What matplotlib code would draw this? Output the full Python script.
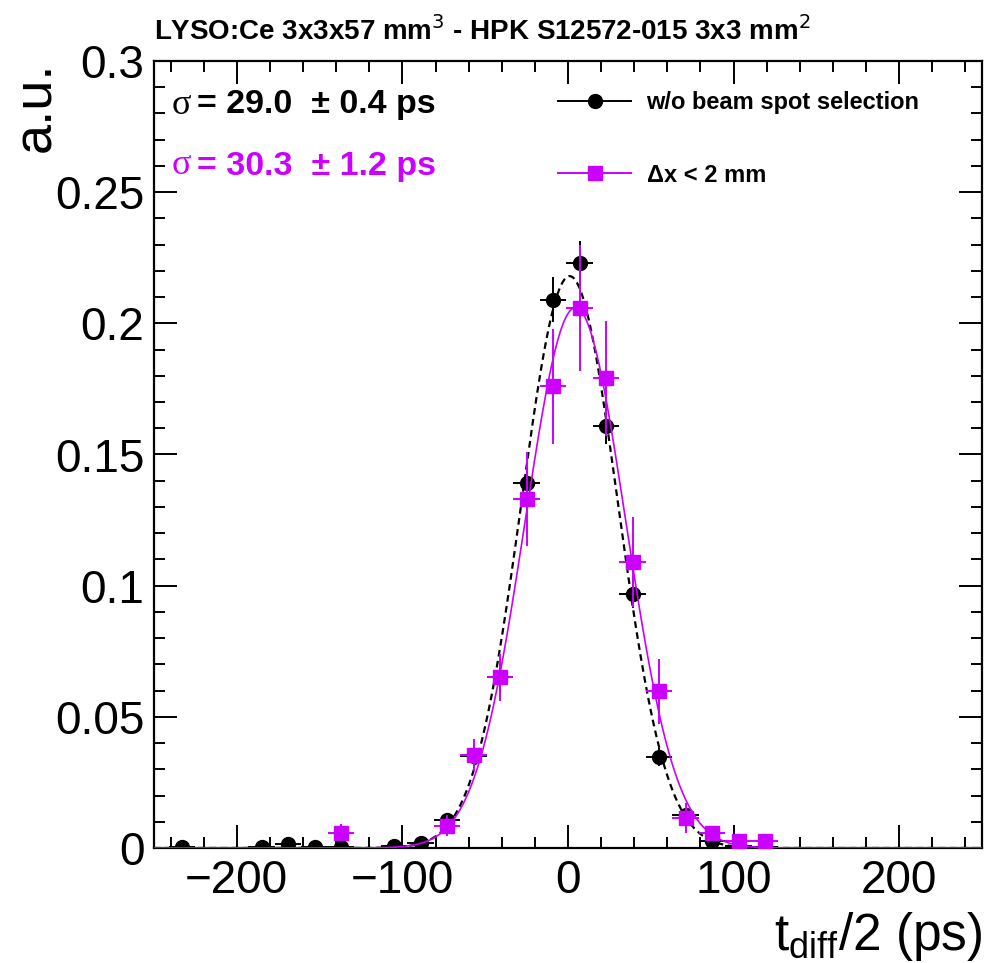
import numpy as np
import matplotlib
matplotlib.use("Agg")
import matplotlib.pyplot as plt
from matplotlib.lines import Line2D
from matplotlib.ticker import MultipleLocator, FuncFormatter

plt.rcParams['font.family'] = ['Liberation Sans', 'DejaVu Sans']

# ---------------- data ----------------
bin_half_width = 8.0

x_all = [-233, -185, -169, -153, -137, -105, -89, -73, -57, -41, -25, -9,
         7, 23, 39, 55, 71, 87, 103, 119]
y_all = [0.0004, 0.0005, 0.0015, 0.0004, 0.0005, 0.0006, 0.0019, 0.0105,
         0.035, 0.065, 0.139, 0.209, 0.223, 0.161, 0.097, 0.0346, 0.0125,
         0.0025, 0.0008, 0.0005]
yerr_all = [0.0004, 0.0005, 0.0009, 0.0004, 0.0005, 0.0005, 0.0009, 0.0022,
            0.004, 0.0055, 0.0075, 0.0085, 0.0085, 0.007, 0.0055, 0.0035,
            0.002, 0.001, 0.0006, 0.0005]

x_sel = [-137, -73, -57, -41, -25, -9, 7, 23, 39, 55, 71, 87, 103, 119]
y_sel = [0.0058, 0.0085, 0.0355, 0.065, 0.133, 0.176, 0.206, 0.179, 0.109,
         0.0597, 0.0114, 0.0057, 0.0025, 0.0025]
yerr_sel = [0.0032, 0.004, 0.006, 0.009, 0.018, 0.022, 0.024, 0.022, 0.017,
            0.0125, 0.0057, 0.0025, 0.002, 0.002]

# Gaussian fit parameters (amplitude, mean, sigma)
fit_all = (0.218, 1.0, 29.0)
fit_sel = (0.206, 4.5, 30.3)

label_all = "w/o beam spot selection"
label_sel = "\u0394x < 2 mm"
sigma_all_txt = "= 29.0  \u00b1 0.4 ps"
sigma_sel_txt = "= 30.3  \u00b1 1.2 ps"
title = "LYSO:Ce 3x3x57 mm$^{3}$ - HPK S12572-015 3x3 mm$^{2}$"

x_ticks = [-200, -100, 0, 100, 200]
y_ticks = [0, 0.05, 0.1, 0.15, 0.2, 0.25, 0.3]

MAG = '#cc00ff'

# ---------------- figure ----------------
W, H = 984, 963
fig = plt.figure(figsize=(W / 100, H / 100), dpi=100)
L, R, T, B = 154, 982, 61, 848
ax = fig.add_axes([L / W, 1 - B / H, (R - L) / W, (B - T) / H])

ax.set_xlim(-250, 250)
ax.set_ylim(0, 0.3)

xs = np.linspace(-250, 250, 600)
def gauss(x, p):
    a, m, s = p
    return a * np.exp(-0.5 * ((x - m) / s) ** 2)

ax.errorbar(x_all, y_all, xerr=bin_half_width, yerr=yerr_all, fmt='o',
            color='black', ms=10, elinewidth=1.4, capsize=0, zorder=3)
ax.plot(xs, gauss(xs, fit_all), color='black', ls=(0, (3, 2)), lw=1.6,
        zorder=4)
ax.errorbar(x_sel, y_sel, xerr=bin_half_width, yerr=yerr_sel, fmt='s',
            color=MAG, ms=9.5, elinewidth=1.4, capsize=0, zorder=5)
ax.plot(xs, gauss(xs, fit_sel), color=MAG, lw=1.2, zorder=6)

# ticks
ax.set_xticks(x_ticks)
ax.set_yticks(y_ticks)
ax.xaxis.set_minor_locator(MultipleLocator(20))
ax.yaxis.set_minor_locator(MultipleLocator(0.01))
ax.yaxis.set_major_formatter(FuncFormatter(lambda v, p: f"{v:g}"))
ax.xaxis.set_major_formatter(FuncFormatter(lambda v, p: f"{v:g}".replace('-', '\u2212')))
ax.tick_params(which='both', direction='in', top=True, right=True,
               labelsize=33, width=1.4)
ax.tick_params(which='major', length=16.5)
ax.tick_params(which='minor', length=8)
ax.tick_params(axis='x', pad=8)
ax.tick_params(axis='y', pad=7)
for s in ax.spines.values():
    s.set_linewidth(1.6)

# axis labels
ax.set_xlabel(r"t$_{\mathregular{diff}}$/2 (ps)", fontsize=37, loc='right',
              va='baseline')
ax.xaxis.set_label_coords(1.0, (B - 950) / (B - T))
ax.set_ylabel("a.u.", fontsize=39, loc='top')
ax.yaxis.set_label_coords(-0.112, 1.0)

# title
fig.text(L / W, 1 - 40 / H, title, fontsize=20, fontweight='bold',
         ha='left', va='baseline')

# sigma annotations
for txt, col, ypx in [(sigma_all_txt, 'black', 105), (sigma_sel_txt, MAG, 166)]:
    yy = (B - ypx) / (B - T)
    ax.text((172 - L) / (R - L), yy, "\u03c3", color=col, fontsize=26,
            family=['Liberation Serif', 'DejaVu Serif'], transform=ax.transAxes,
            ha='left', va='center')
    ax.text((197 - L) / (R - L), yy, txt, color=col, fontsize=24.5,
            fontweight='bold', transform=ax.transAxes, ha='left', va='center')

# legend
h_all = Line2D([], [], color='black', marker='o', ms=10, lw=1.4)
h_sel = Line2D([], [], color=MAG, marker='s', ms=9.5, lw=1.4)
leg = ax.legend([h_all, h_sel], [label_all, label_sel], loc='upper left',
                bbox_to_anchor=(558 / W, 1 - 91 / H), bbox_transform=fig.transFigure,
                frameon=False, borderpad=0, borderaxespad=0, handlelength=3.1,
                handletextpad=0.65, labelspacing=2.1,
                prop={'size': 17, 'weight': 'bold'})

fig.savefig("out.png", dpi=100)
